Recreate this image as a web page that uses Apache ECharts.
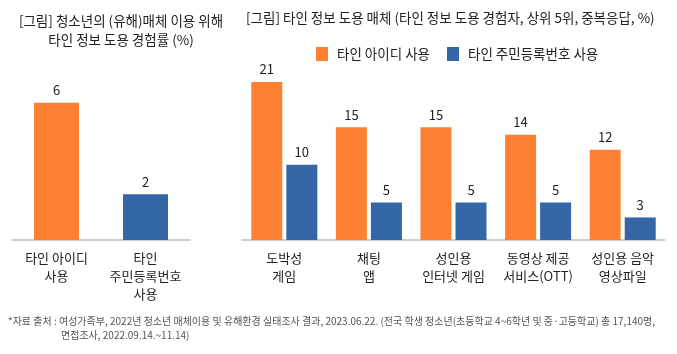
<!DOCTYPE html>
<html>
<head>
<meta charset="utf-8">
<script src="https://cdn.jsdelivr.net/npm/echarts@6/dist/echarts.min.js"></script>
<style>
  html, body { margin: 0; padding: 0; background: #fff; }
  #chart { width: 677px; height: 354px; }
</style>
</head>
<body>
<div id="chart"></div>
<script>
// 왼쪽: 타인 정보 도용 경험률
const leftCategories = ['타인 아이디\n사용', '타인\n주민등록번호\n사용'];
const leftValues = [6, 2];

// 오른쪽: 타인 정보 도용 매체
const rightCategories = ['도박성\n게임', '채팅\n앱', '성인용\n인터넷 게임', '동영상 제공\n서비스(OTT)', '성인용 음악\n영상파일'];
const idValues = [21, 15, 15, 14, 12];
const rrnValues = [10, 5, 5, 5, 3];
const seriesNames = ['타인 아이디 사용', '타인 주민등록번호 사용'];

const ORANGE = '#FE8032';
const BLUE = '#3566A5';
const FONT = '"Noto Sans CJK KR", "Noto Sans", sans-serif';

const chart = echarts.init(document.getElementById('chart'));

const labelStyle = {
  show: true,
  position: 'top',
  distance: 6,
  color: '#222',
  fontSize: 13,
  fontFamily: FONT
};

const axisLabelStyle = {
  color: '#222',
  fontSize: 13,
  lineHeight: 18,
  margin: 9,
  fontFamily: FONT,
  interval: 0
};

const option = {
  textStyle: { fontFamily: FONT },
  title: [
    {
      text: '[그림] 청소년의 (유해)매체 이용 위해\n타인 정보 도용 경험률 (%)',
      left: 116,
      top: 6,
      textAlign: 'center',
      textStyle: { fontSize: 13.5, fontWeight: 'normal', color: '#222', lineHeight: 19, fontFamily: FONT }
    },
    {
      text: '[그림] 타인 정보 도용 매체 (타인 정보 도용 경험자, 상위 5위, 중복응답, %)',
      left: 241,
      top: 6,
      textStyle: { fontSize: 13.5, fontWeight: 'normal', color: '#222', fontFamily: FONT }
    }
  ],
  legend: {
    data: seriesNames,
    left: 311,
    top: 42,
    itemWidth: 12,
    itemHeight: 14,
    itemGap: 17,
    icon: 'rect',
    textStyle: { fontSize: 13.5, color: '#222', fontFamily: FONT, padding: [0, 0, 0, 4] }
  },
  grid: [
    { left: 12, top: 80, width: 178, height: 160 },
    { left: 242, top: 82, width: 423, height: 158 }
  ],
  xAxis: [
    {
      gridIndex: 0,
      type: 'category',
      data: leftCategories,
      axisTick: { show: false },
      axisLine: { lineStyle: { color: '#BFBFBF', width: 1.5 } },
      axisLabel: axisLabelStyle
    },
    {
      gridIndex: 1,
      type: 'category',
      data: rightCategories,
      axisTick: { show: false },
      axisLine: { lineStyle: { color: '#BFBFBF', width: 1.5 } },
      axisLabel: axisLabelStyle
    }
  ],
  yAxis: [
    { gridIndex: 0, type: 'value', min: 0, max: 7, show: false, splitLine: { show: false } },
    { gridIndex: 1, type: 'value', min: 0, max: 21, show: false, splitLine: { show: false } }
  ],
  series: [
    {
      type: 'bar',
      xAxisIndex: 0,
      yAxisIndex: 0,
      barWidth: 45,
      data: [
        { value: leftValues[0], itemStyle: { color: ORANGE } },
        { value: leftValues[1], itemStyle: { color: BLUE } }
      ],
      label: labelStyle
    },
    {
      name: seriesNames[0],
      type: 'bar',
      xAxisIndex: 1,
      yAxisIndex: 1,
      barWidth: 31,
      barGap: '13%',
      itemStyle: { color: ORANGE },
      data: idValues,
      label: labelStyle
    },
    {
      name: seriesNames[1],
      type: 'bar',
      xAxisIndex: 1,
      yAxisIndex: 1,
      barWidth: 31,
      barGap: '13%',
      itemStyle: { color: BLUE },
      data: rrnValues,
      label: labelStyle
    }
  ],
  graphic: [
    {
      type: 'text',
      left: 8,
      top: 316,
      style: {
        text: '*자료 출처 : 여성가족부, 2022년 청소년 매체이용 및 유해환경 실태조사 결과, 2023.06.22. (전국 학생 청소년(초등학교 4~6학년 및 중·고등학교) 총 17,140명,',
        fontSize: 10,
        fill: '#555',
        fontFamily: FONT
      }
    },
    {
      type: 'text',
      left: 61,
      top: 330,
      style: {
        text: '면접조사, 2022.09.14.~11.14)',
        fontSize: 10,
        fill: '#555',
        fontFamily: FONT
      }
    }
  ]
};

chart.setOption(option);
</script>
</body>
</html>
